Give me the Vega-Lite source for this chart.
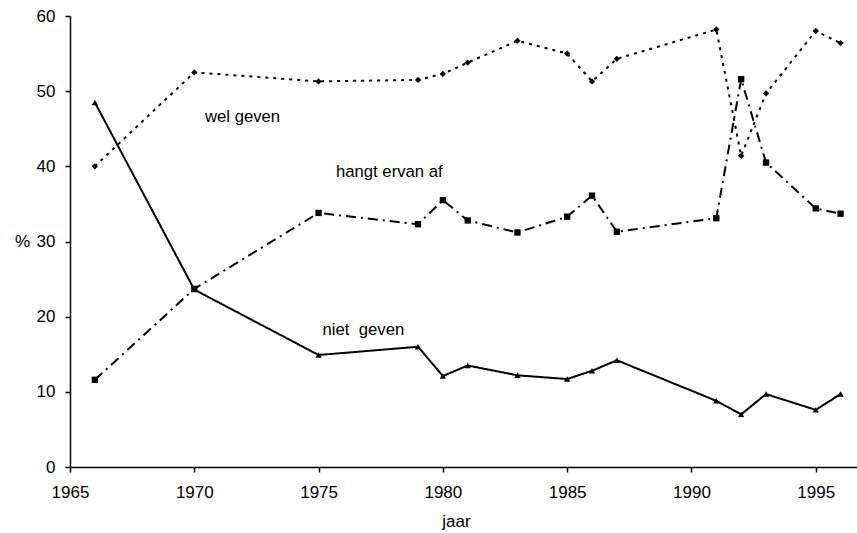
{
  "$schema": "https://vega.github.io/schema/vega-lite/v6.json",
  "width": 787,
  "height": 451,
  "autosize": "none",
  "padding": {"left": 70, "top": 16, "right": 0, "bottom": 66},
  "background": "white",
  "config": {
    "view": {"stroke": null},
    "font": "Liberation Sans",
    "axis": {"grid": false, "domainColor": "black", "tickColor": "black", "domainWidth": 1.5, "tickWidth": 1.5, "labelColor": "black", "titleColor": "black", "labelFontSize": 17, "titleFontSize": 17, "titleFontWeight": "normal", "labelFont": "Liberation Sans", "titleFont": "Liberation Sans"}
  },
  "datasets": {
    "series": [
      {"jaar": 1966, "pct": 40.0, "reeks": "wel geven"},
      {"jaar": 1970, "pct": 52.5, "reeks": "wel geven"},
      {"jaar": 1975, "pct": 51.3, "reeks": "wel geven"},
      {"jaar": 1979, "pct": 51.5, "reeks": "wel geven"},
      {"jaar": 1980, "pct": 52.3, "reeks": "wel geven"},
      {"jaar": 1981, "pct": 53.8, "reeks": "wel geven"},
      {"jaar": 1983, "pct": 56.7, "reeks": "wel geven"},
      {"jaar": 1985, "pct": 55.0, "reeks": "wel geven"},
      {"jaar": 1986, "pct": 51.3, "reeks": "wel geven"},
      {"jaar": 1987, "pct": 54.3, "reeks": "wel geven"},
      {"jaar": 1991, "pct": 58.2, "reeks": "wel geven"},
      {"jaar": 1992, "pct": 41.4, "reeks": "wel geven"},
      {"jaar": 1993, "pct": 49.7, "reeks": "wel geven"},
      {"jaar": 1995, "pct": 58.0, "reeks": "wel geven"},
      {"jaar": 1996, "pct": 56.4, "reeks": "wel geven"},
      {"jaar": 1966, "pct": 11.6, "reeks": "hangt ervan af"},
      {"jaar": 1970, "pct": 23.7, "reeks": "hangt ervan af"},
      {"jaar": 1975, "pct": 33.8, "reeks": "hangt ervan af"},
      {"jaar": 1979, "pct": 32.3, "reeks": "hangt ervan af"},
      {"jaar": 1980, "pct": 35.5, "reeks": "hangt ervan af"},
      {"jaar": 1981, "pct": 32.8, "reeks": "hangt ervan af"},
      {"jaar": 1983, "pct": 31.2, "reeks": "hangt ervan af"},
      {"jaar": 1985, "pct": 33.3, "reeks": "hangt ervan af"},
      {"jaar": 1986, "pct": 36.1, "reeks": "hangt ervan af"},
      {"jaar": 1987, "pct": 31.3, "reeks": "hangt ervan af"},
      {"jaar": 1991, "pct": 33.1, "reeks": "hangt ervan af"},
      {"jaar": 1992, "pct": 51.6, "reeks": "hangt ervan af"},
      {"jaar": 1993, "pct": 40.5, "reeks": "hangt ervan af"},
      {"jaar": 1995, "pct": 34.4, "reeks": "hangt ervan af"},
      {"jaar": 1996, "pct": 33.7, "reeks": "hangt ervan af"},
      {"jaar": 1966, "pct": 48.5, "reeks": "niet geven"},
      {"jaar": 1970, "pct": 23.6, "reeks": "niet geven"},
      {"jaar": 1975, "pct": 14.9, "reeks": "niet geven"},
      {"jaar": 1979, "pct": 16.0, "reeks": "niet geven"},
      {"jaar": 1980, "pct": 12.1, "reeks": "niet geven"},
      {"jaar": 1981, "pct": 13.5, "reeks": "niet geven"},
      {"jaar": 1983, "pct": 12.2, "reeks": "niet geven"},
      {"jaar": 1985, "pct": 11.7, "reeks": "niet geven"},
      {"jaar": 1986, "pct": 12.8, "reeks": "niet geven"},
      {"jaar": 1987, "pct": 14.2, "reeks": "niet geven"},
      {"jaar": 1991, "pct": 8.8, "reeks": "niet geven"},
      {"jaar": 1992, "pct": 7.0, "reeks": "niet geven"},
      {"jaar": 1993, "pct": 9.7, "reeks": "niet geven"},
      {"jaar": 1995, "pct": 7.6, "reeks": "niet geven"},
      {"jaar": 1996, "pct": 9.7, "reeks": "niet geven"}
    ],
    "labels": [
      {"jaar": 1970.43, "pct": 45.9, "tekst": "wel geven"},
      {"jaar": 1975.7, "pct": 38.6, "tekst": "hangt ervan af"},
      {"jaar": 1975.16, "pct": 17.6, "tekst": "niet\u00a0\u00a0geven"}
    ]
  },
  "layer": [
    {
      "data": {"name": "series"},
      "mark": {"type": "line", "color": "black", "clip": true},
      "encoding": {
        "x": {
          "field": "jaar", "type": "quantitative",
          "scale": {"domain": [1965, 1996.66], "nice": false, "zero": false},
          "axis": {"values": [1965, 1970, 1975, 1980, 1985, 1990, 1995], "format": "d", "tickSize": 5, "labelPadding": 12, "title": "jaar", "titleX": 386, "titleY": 54, "titleBaseline": "middle", "titleAlign": "center", "labelFlush": false, "labelOverlap": false}
        },
        "y": {
          "field": "pct", "type": "quantitative",
          "scale": {"domain": [0, 60], "nice": false},
          "axis": {"values": [0, 10, 20, 30, 40, 50, 60], "tickSize": 5, "labelPadding": 10, "title": "%", "titleAngle": 0, "titleX": -48, "titleY": 225.5, "titleAlign": "center", "titleBaseline": "middle"}
        },
        "detail": {"field": "reeks"},
        "strokeDash": {
          "field": "reeks", "type": "nominal",
          "scale": {"domain": ["wel geven", "hangt ervan af", "niet geven"], "range": [[3, 5], [10, 5, 2, 5], [1, 0]]},
          "legend": null
        },
        "size": {
          "field": "reeks", "type": "nominal",
          "scale": {"domain": ["wel geven", "hangt ervan af", "niet geven"], "range": [2, 2, 1.5]},
          "legend": null
        }
      }
    },
    {
      "data": {"name": "series"},
      "mark": {"type": "point", "filled": true, "color": "black", "opacity": 1},
      "encoding": {
        "x": {"field": "jaar", "type": "quantitative"},
        "y": {"field": "pct", "type": "quantitative"},
        "shape": {
          "field": "reeks", "type": "nominal",
          "scale": {"domain": ["wel geven", "hangt ervan af", "niet geven"], "range": ["diamond", "square", "triangle-up"]},
          "legend": null
        },
        "size": {"value": 40}
      }
    },
    {
      "data": {"name": "labels"},
      "mark": {"type": "text", "align": "left", "baseline": "alphabetic", "fontSize": 16.7, "font": "Liberation Sans", "color": "black"},
      "encoding": {
        "x": {"field": "jaar", "type": "quantitative"},
        "y": {"field": "pct", "type": "quantitative"},
        "text": {"field": "tekst"}
      }
    }
  ]
}
